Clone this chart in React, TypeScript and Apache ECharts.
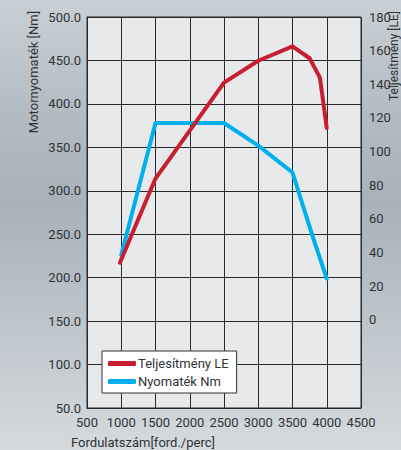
import React, { useEffect, useRef } from "react";
import * as echarts from "echarts";

const rpmTorque = [1000, 1500, 2500, 3000, 3500, 3800, 4000];
const torqueNm = [226, 378, 378, 352, 321, 246, 199];

const rpmPower = [980, 1500, 2500, 3000, 3500, 3750, 3900, 4000];
const powerLE = [34, 84, 141, 154, 162.5, 155.5, 144, 114];

const leftTicks = [50, 100, 150, 200, 250, 300, 350, 400, 450, 500];
const rightTicks = [0, 20, 40, 60, 80, 100, 120, 140, 160, 180];
const xTicks = [500, 1000, 1500, 2000, 2500, 3000, 3500, 4000, 4500];

const seriesNames = ["Teljesítmény LE", "Nyomaték Nm"];
const axisNames = ["Motornyomaték [Nm]", "Teljesítmény [LE]", "Fordulatszám[ford./perc]"];

const FONT = "Roboto";
const TXT = "#2f3336";
const GRIDC = "#2a2a2a";

export default function App() {
  const ref = useRef<HTMLDivElement>(null);
  useEffect(() => {
    document.body.style.margin = "0";
    const chart = echarts.init(ref.current!, null, { renderer: "svg" });
    chart.setOption({
      animation: false,
      textStyle: { fontFamily: FONT },
      grid: {
        left: 87,
        right: 40,
        top: 17,
        bottom: 42,
        show: true,
        backgroundColor: "#e7e9eb",
        borderColor: GRIDC,
        borderWidth: 1,
      },
      legend: {
        orient: "vertical",
        left: 102,
        top: 351,
        backgroundColor: "#ffffff",
        borderColor: "#333",
        borderWidth: 1,
        borderRadius: 0,
        padding: [6, 8, 5, 6],
        itemGap: 5,
        itemWidth: 28,
        itemHeight: 5,
        icon: "roundRect",
        textStyle: { fontFamily: FONT, fontSize: 13, color: TXT, padding: [0, 0, 0, -3] },
        data: seriesNames,
      },
      xAxis: {
        type: "value",
        min: 500,
        max: 4500,
        interval: 500,
        axisLine: { show: true, onZero: false, lineStyle: { color: GRIDC } },
        axisTick: { show: false },
        splitLine: { show: true, lineStyle: { color: GRIDC, width: 1 } },
        axisLabel: {
          fontFamily: FONT,
          fontSize: 13,
          color: TXT,
          margin: 8,
          customValues: xTicks,
          formatter: (v: number) => String(v),
        },
      },
      yAxis: [
        {
          type: "value",
          min: 50,
          max: 500,
          interval: 50,
          axisLine: { show: true, lineStyle: { color: GRIDC } },
          axisTick: { show: false },
          splitLine: { show: true, lineStyle: { color: GRIDC, width: 1 } },
          axisLabel: {
            fontFamily: FONT,
            fontSize: 13,
            color: TXT,
            margin: 6,
            customValues: leftTicks,
            formatter: (v: number) => v.toFixed(1),
          },
        },
        {
          type: "value",
          min: -52.3,
          max: 180,
          position: "right",
          axisLine: { show: false, onZero: false },
          axisTick: { show: false },
          splitLine: { show: false },
          axisLabel: {
            fontFamily: FONT,
            fontSize: 13,
            color: TXT,
            margin: 8,
            customValues: rightTicks,
            formatter: (v: number) => String(v),
          },
        },
      ],
      graphic: [
        {
          type: "text",
          x: 33,
          y: 72,
          rotation: Math.PI / 2,
          style: {
            text: axisNames[0],
            fontFamily: FONT,
            fontSize: 13,
            fill: TXT,
            align: "center",
            verticalAlign: "middle",
          },
        },
        {
          type: "text",
          x: 394,
          y: 56,
          rotation: Math.PI / 2,
          style: {
            text: axisNames[1],
            fontFamily: FONT,
            fontSize: 12,
            fill: TXT,
            align: "center",
            verticalAlign: "middle",
          },
        },
        {
          type: "text",
          x: 143,
          y: 442,
          style: {
            text: axisNames[2],
            fontFamily: FONT,
            fontSize: 13,
            fill: TXT,
            align: "center",
            verticalAlign: "middle",
          },
        },
      ],
      series: [
        {
          name: seriesNames[0],
          type: "line",
          yAxisIndex: 1,
          data: rpmPower.map((r, i) => [r, powerLE[i]]),
          showSymbol: false,
          symbol: "none",
          lineStyle: { color: "#c81e32", width: 4, cap: "round", join: "round" },
          itemStyle: { color: "#c81e32" },
          z: 3,
        },
        {
          name: seriesNames[1],
          type: "line",
          yAxisIndex: 0,
          data: rpmTorque.map((r, i) => [r, torqueNm[i]]),
          showSymbol: false,
          symbol: "none",
          lineStyle: { color: "#00b0ee", width: 4, cap: "round", join: "round" },
          itemStyle: { color: "#00b0ee" },
          z: 2,
        },
      ],
    });
    return () => chart.dispose();
  }, []);
  return (
    <div
      ref={ref}
      style={{
        width: 401,
        height: 450,
        background:
          "linear-gradient(180deg, #c9d0d5 0%, #b3bcc3 25%, #a8b2ba 45%, #bcc4ca 70%, #d6dadd 100%)",
      }}
    />
  );
}
